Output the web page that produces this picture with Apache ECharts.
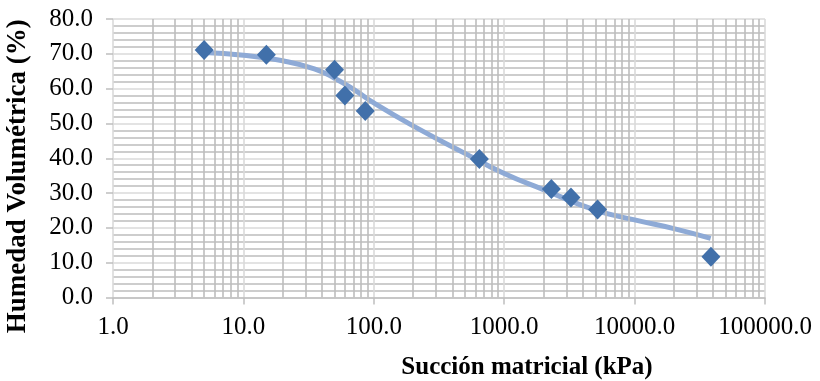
<!DOCTYPE html>
<html>
<head>
<meta charset="utf-8">
<script src="https://cdn.jsdelivr.net/npm/echarts@6/dist/echarts.min.js"></script>
<style>
  html, body { margin: 0; padding: 0; background: #fff; }
  #chart { width: 820px; height: 381px; }
</style>
</head>
<body>
<div id="chart"></div>
<script>
// Measured suction (kPa) and volumetric water content (%)
const suction = [5, 15, 50, 60, 86, 645, 2300, 3250, 5200, 38500];
const waterContent = [71.1, 69.7, 65.4, 58.0, 53.6, 39.8, 31.2, 28.7, 25.3, 11.7];

// Fitted retention curve
const fitSuction = [5, 10, 20, 35, 50, 70, 100, 200, 500, 1000, 2000, 5000, 10000, 20000, 38300];
const fitWater = [70.4, 69.6, 68.0, 65.7, 63.0, 59.8, 55.9, 49.3, 41.4, 35.6, 31.0, 25.1, 22.3, 19.8, 17.0];

// Minor log gridlines (2..9 within each decade)
const minorLogLines = [];
for (let d = 1; d < 100000; d *= 10) {
  for (let k = 2; k <= 9; k++) minorLogLines.push(k * d);
}

const serif = '"Liberation Serif", "Times New Roman", serif';

const chart = echarts.init(document.getElementById('chart'), null, { renderer: 'canvas' });
chart.setOption({
  animation: false,
  grid: { left: 113, right: 55, top: 19, bottom: 83.5, containLabel: false, outerBoundsMode: 'none' },
  xAxis: {
    type: 'log',
    logBase: 10,
    min: 1,
    max: 100000,
    name: 'Succión matricial (kPa)',
    nameLocation: 'middle',
    nameGap: 58,
    nameTextStyle: {
      fontFamily: serif, fontSize: 25, fontWeight: 'bold', color: '#000',
      padding: [0, 0, 0, 176]
    },
    axisLine: { show: true, lineStyle: { color: '#bfbfbf', width: 1.5 } },
    axisTick: { show: true, length: 7, lineStyle: { color: '#bfbfbf', width: 1.5 } },
    axisLabel: {
      fontFamily: serif, fontSize: 25, color: '#000', margin: 17,
      formatter: v => Number(v).toFixed(1)
    },
    splitLine: { show: true, lineStyle: { color: '#dadada', width: 1.6 } }
  },
  yAxis: {
    type: 'value',
    min: 0,
    max: 80,
    interval: 10,
    name: 'Humedad Volumétrica (%)',
    nameLocation: 'middle',
    nameGap: 81,
    nameRotate: 90,
    nameTextStyle: {
      fontFamily: serif, fontSize: 27, fontWeight: 'bold', color: '#000',
      padding: [0, 36, 0, 0]
    },
    axisLine: { show: false },
    axisTick: { show: true, length: 7, lineStyle: { color: '#bfbfbf', width: 1.5 } },
    axisLabel: {
      fontFamily: serif, fontSize: 25, color: '#000', margin: 20,
      formatter: v => v.toFixed(1)
    },
    splitLine: { show: true, lineStyle: { color: '#dadada', width: 1.6 } },
    minorTick: { show: false, splitNumber: 5 },
    minorSplitLine: { show: true, lineStyle: { color: '#bdbdbd', width: 1.6 } }
  },
  series: [
    {
      type: 'line',
      data: [],
      silent: true,
      z: 1,
      markLine: {
        silent: true,
        symbol: 'none',
        label: { show: false },
        lineStyle: { color: '#bdbdbd', width: 1.6, type: 'solid' },
        data: minorLogLines.map(v => ({ xAxis: v }))
      }
    },
    {
      name: 'Ajuste',
      type: 'line',
      smooth: 0.5,
      symbol: 'none',
      lineStyle: { color: '#8eaad6', width: 5 },
      data: fitSuction.map((x, i) => [x, fitWater[i]]),
      z: 3
    },
    {
      name: 'Datos',
      type: 'scatter',
      symbol: 'diamond',
      symbolSize: [19, 20],
      itemStyle: { color: '#4170aa', opacity: 1 },
      data: suction.map((x, i) => [x, waterContent[i]]),
      z: 5
    }
  ]
});
</script>
</body>
</html>
